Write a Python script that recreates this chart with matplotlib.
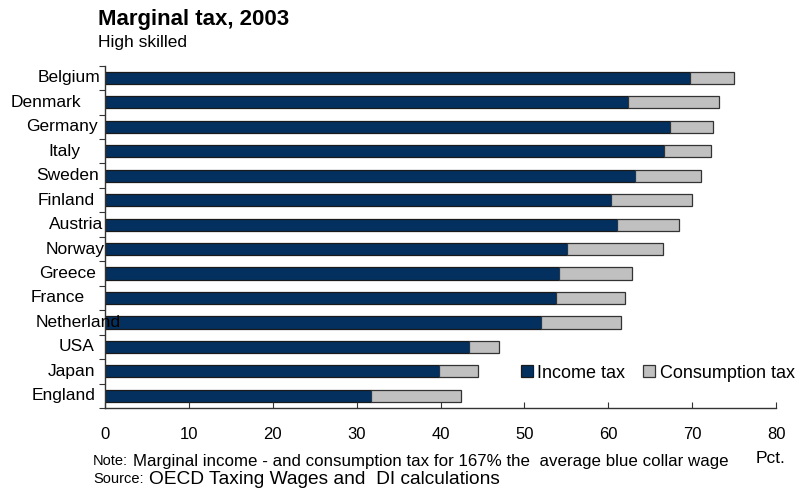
import numpy as np
import matplotlib.pyplot as plt

plt.rcParams['font.family'] = ['Liberation Sans', 'DejaVu Sans']

# Marginal tax for high skilled workers, 2003 (pct.)
countries = ["Belgium", "Denmark", "Germany", "Italy", "Sweden", "Finland", "Austria",
             "Norway", "Greece", "France", "Netherland", "USA", "Japan", "England"]
income_tax = [69.7, 62.3, 67.4, 66.7, 63.2, 60.3, 61.1, 55.1, 54.1, 53.8, 52.0, 43.4, 39.8, 31.7]
total_tax = [75.0, 73.2, 72.5, 72.3, 71.1, 70.0, 68.4, 66.5, 62.8, 62.0, 61.5, 47.0, 44.5, 42.4]
consumption_tax = [t - i for t, i in zip(total_tax, income_tax)]

# right edge of each country label, pixels from the y axis
label_shift = [-5, -24, -7, -25, -6, -10, -2, 0, -9, -20, 16, -10, -10, -9]

fig = plt.figure(figsize=(8.01, 4.90), dpi=100)
ax = fig.add_axes([105 / 801, 1 - 408 / 490, 671 / 801, 342.3 / 490])

y = np.arange(len(countries))
ax.barh(y, income_tax, height=0.5, color="#04305f", edgecolor="#1a1a1a", linewidth=0.9,
        label="Income tax")
ax.barh(y, consumption_tax, left=income_tax, height=0.5, color="#c0c0c0",
        edgecolor="#333333", linewidth=0.9, label="Consumption tax")

ax.set_xlim(0, 80)
ax.set_ylim(len(countries) - 0.5, -0.5)
ax.set_xticks(np.arange(0, 81, 10))
ax.tick_params(axis="x", direction="in", length=4, labelsize=12, pad=14, color="#333333")

# y ticks sit between the categories, labels drawn separately
ax.set_yticks(np.arange(-0.5, len(countries) + 0.5, 1))
ax.set_yticklabels([])
ax.tick_params(axis="y", direction="out", length=4, color="#333333")
for i, name in enumerate(countries):
    ax.annotate(name, xy=(0, i), xytext=(label_shift[i], 0), textcoords="offset pixels",
                ha="right", va="center", fontsize=12.5, annotation_clip=False, zorder=5)

for s in ["top", "right"]:
    ax.spines[s].set_visible(False)
for s in ["left", "bottom"]:
    ax.spines[s].set_color("#333333")
    ax.spines[s].set_linewidth(1.0)

ax.legend(loc="center left", bbox_to_anchor=(0.62, 0.102), ncol=2, frameon=False,
          fontsize=13, handlelength=0.65, handleheight=0.65, handletextpad=0.25,
          columnspacing=1.0, borderpad=0, borderaxespad=0)

fig.text(98 / 801, 1 - 20 / 490, "Marginal tax, 2003", fontsize=16, fontweight="bold",
         va="center", ha="left")
fig.text(98 / 801, 1 - 43 / 490, "High skilled", fontsize=12.5, va="center", ha="left")

fig.text(93 / 801, 1 - 461 / 490, "Note:", fontsize=10.5, va="center", ha="left")
fig.text(133 / 801, 1 - 461 / 490,
         "Marginal income - and consumption tax for 167% the  average blue collar wage",
         fontsize=12.2, va="center", ha="left")
fig.text(93 / 801, 1 - 479 / 490, "Source:", fontsize=10.5, va="center", ha="left")
fig.text(149 / 801, 1 - 479 / 490, "OECD Taxing Wages and  DI calculations",
         fontsize=13.8, va="center", ha="left")
fig.text(771 / 801, 1 - 458 / 490, "Pct.", fontsize=12.5, va="center", ha="center")

fig.savefig("out.png", dpi=100)
